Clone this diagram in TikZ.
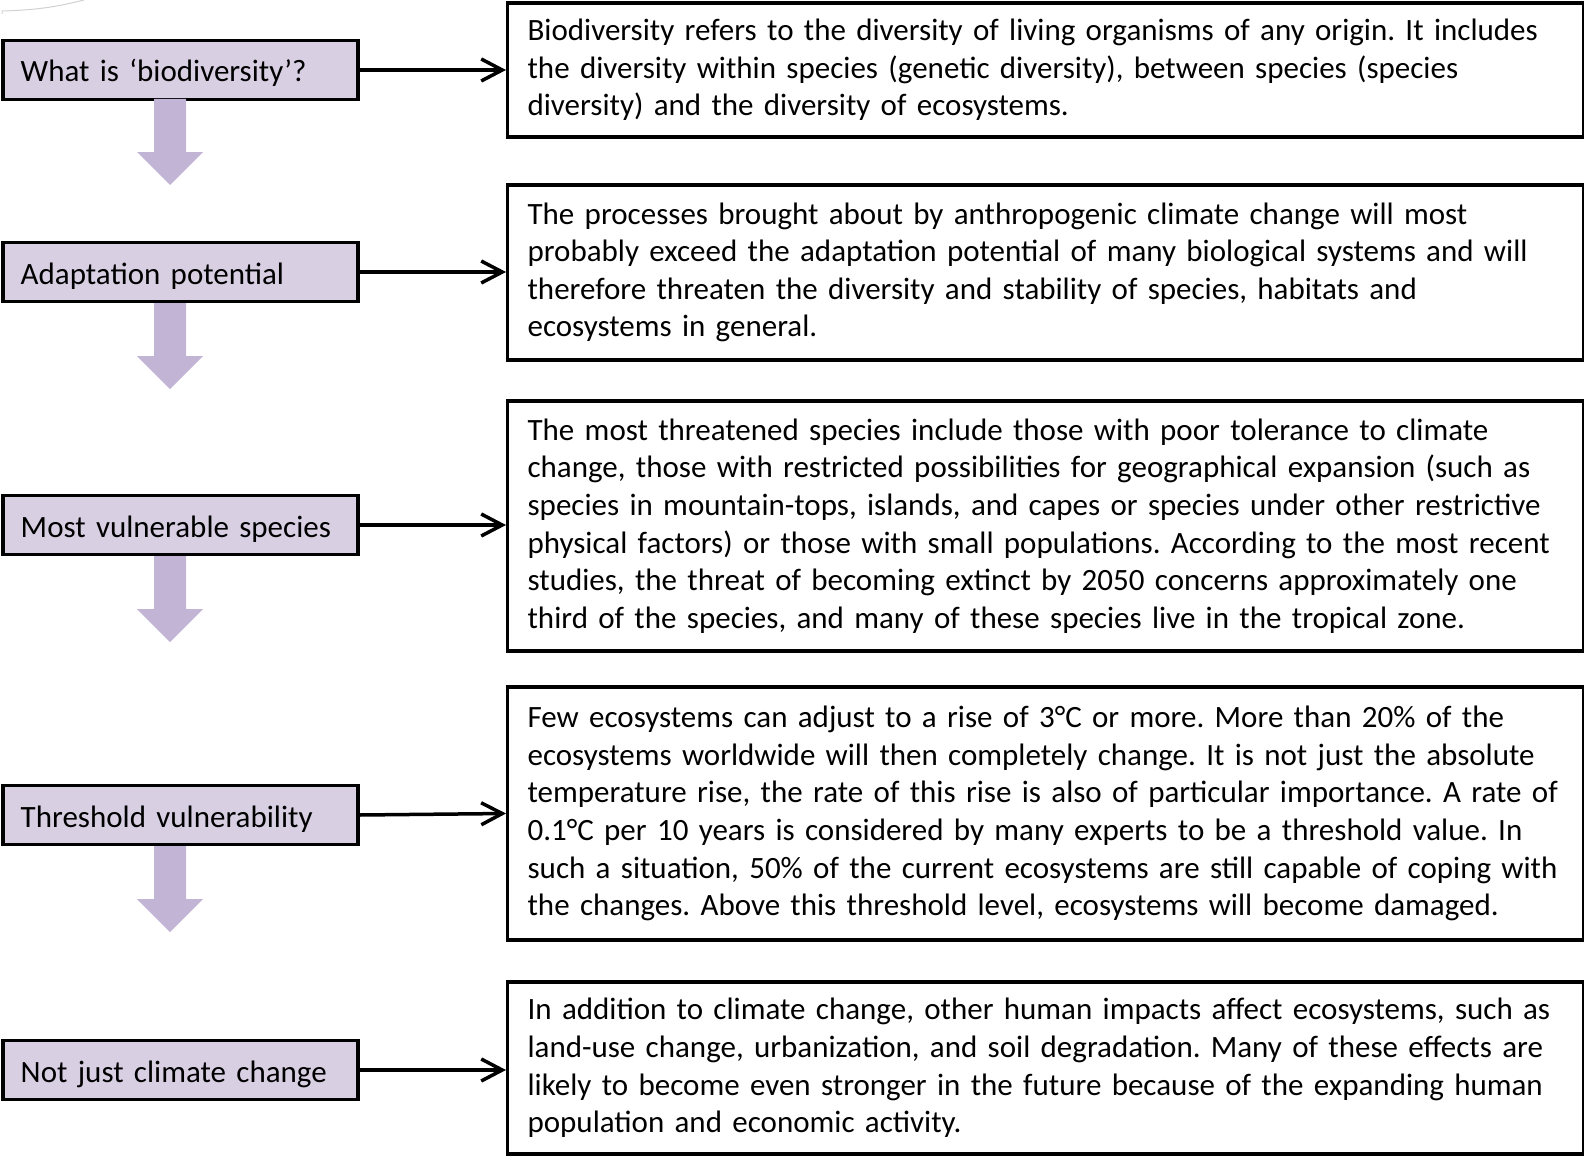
\documentclass[tikz,border=0pt]{standalone}
\usepackage{fontspec}
\setmainfont{Carlito}
\usetikzlibrary{arrows.meta}
\definecolor{boxfill}{RGB}{216,207,227}
\definecolor{flowfill}{RGB}{194,180,212}
\tikzset{
  base/.style={font=\fontsize{15.5pt}{18.8pt}\selectfont\frenchspacing},
  topic/.style={base, draw=black, line width=1.75pt, fill=boxfill, anchor=west,
    text width=159.5pt, inner xsep=9pt, align=left, minimum height=29.5pt,
    text height=14pt, text depth=2pt},
  detail/.style={base, draw=black, line width=1.6pt, fill=white, anchor=west,
    text width=518pt, inner xsep=10pt, align=left},
  link/.style={line width=1.75pt, -{Straight Barb[length=10.5pt,width=11pt,line width=1.75pt]}},
  flow/.style={fill=flowfill, draw=none}
}
\begin{document}
\begin{tikzpicture}[x=0.5pt,y=-0.5pt]
\useasboundingbox (0,0) rectangle (1584,1156);

% faint stroke in the top left corner
\draw[black!18, line width=0.5pt] (2,14) -- (2,11) .. controls (40,10) and (60,6) .. (84,0);

% left column: topics
\node[topic] (t1) at (1,70) {What is ‘biodiversity’?};
\node[topic] (t2) at (1,272) {Adaptation potential};
\node[topic] (t3) at (1,525) {Most vulnerable species};
\node[topic] (t4) at (1,815) {Threshold vulnerability};
\node[topic] (t5) at (1,1070) {Not just climate change};

% right column: explanations
\node[detail, minimum height=67pt] (d1) at (506,70) {Biodiversity refers to the diversity of living organisms of any origin. It includes\\the diversity within species (genetic diversity), between species (species\\diversity) and the diversity of ecosystems.};
\node[detail, minimum height=87.5pt] (d2) at (506,272.5) {The processes brought about by anthropogenic climate change will most\\probably exceed the adaptation potential of many biological systems and will\\therefore threaten the diversity and stability of species, habitats and\\ecosystems in general.};
\node[detail, minimum height=125pt] (d3) at (506,526) {The most threatened species include those with poor tolerance to climate\\change, those with restricted possibilities for geographical expansion (such as\\species in mountain-tops, islands, and capes or species under other restrictive\\physical factors) or those with small populations. According to the most recent\\studies, the threat of becoming extinct by 2050 concerns approximately one\\third of the species, and many of these species live in the tropical zone.};
\node[detail, minimum height=126.5pt] (d4) at (506,813.5) {Few ecosystems can adjust to a rise of 3°C or more. More than 20\% of the\\ecosystems worldwide will then completely change. It is not just the absolute\\temperature rise, the rate of this rise is also of particular importance. A rate of\\0.1°C per 10 years is considered by many experts to be a threshold value. In\\such a situation, 50\% of the current ecosystems are still capable of coping with\\the changes. Above this threshold level, ecosystems will become damaged.};
\node[detail, minimum height=86pt] (d5) at (506,1068) {In addition to climate change, other human impacts affect ecosystems, such as\\land-use change, urbanization, and soil degradation. Many of these effects are\\likely to become even stronger in the future because of the expanding human\\population and economic activity.};

% connectors
\draw[link] (t1.east) -- (t1.east -| d1.west);
\draw[link] (t2.east) -- (t2.east -| d2.west);
\draw[link] (t3.east) -- (t3.east -| d3.west);
\draw[link] (t4.east) -- (d4.west);
\draw[link] (t5.east) -- (t5.east -| d5.west);

% block arrows between topics
\foreach \a/\top in {t1/99, t2/303, t3/556, t4/846}{
  \fill[flow] (154,\top) -- (186,\top) -- (186,\top+53) -- (203,\top+53)
    -- (170,\top+86) -- (137,\top+53) -- (154,\top+53) -- cycle;
}
\end{tikzpicture}
\end{document}
